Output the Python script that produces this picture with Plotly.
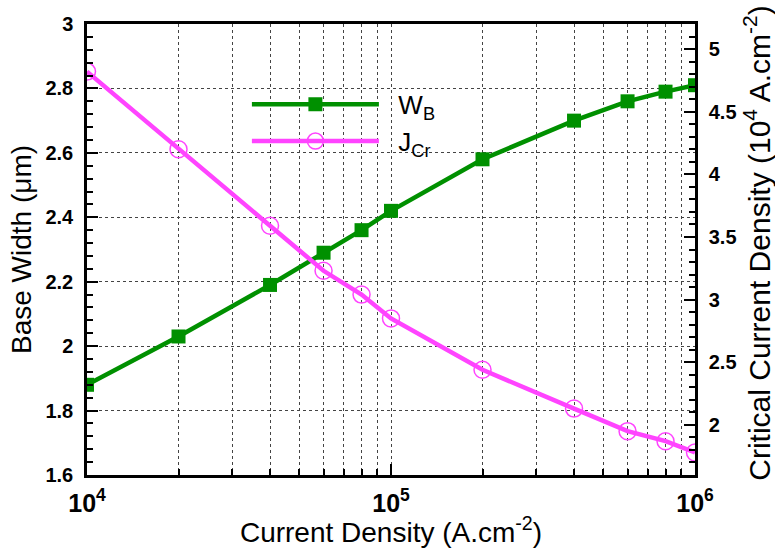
import plotly.graph_objects as go

current_density = [1e4, 2e4, 4e4, 6e4, 8e4, 1e5, 2e5, 4e5, 6e5, 8e5, 1e6]
base_width = [1.88, 2.03, 2.19, 2.29, 2.36, 2.42, 2.58, 2.70, 2.76, 2.79, 2.81]
critical_j = [4.82, 4.20, 3.59, 3.23, 3.04, 2.85, 2.44, 2.13, 1.95, 1.87, 1.78]

green = "#009000"
magenta = "#ff44ff"
font = "Liberation Sans, Arial, sans-serif"

fig = go.Figure()
fig.add_trace(go.Scatter(
    x=current_density, y=base_width, name="\u00a0\u00a0W<sub>B</sub>", mode="lines+markers",
    line=dict(color=green, width=4.5),
    marker=dict(symbol="square", size=14, color=green),
))
fig.add_trace(go.Scatter(
    x=current_density, y=critical_j, name="\u00a0\u00a0J<sub>Cr</sub>", mode="lines+markers",
    yaxis="y2",
    line=dict(color=magenta, width=4.5),
    marker=dict(symbol="circle-open", size=17, color=magenta, line=dict(width=1.5)),
))

tickfont = dict(family=font, size=20, color="black", weight="bold")
titlefont = dict(family=font, size=28, color="black")
grid = "#444444"

fig.update_layout(
    width=775, height=548,
    margin=dict(l=87, r=80, t=24, b=61),
    plot_bgcolor="white", paper_bgcolor="white",
    showlegend=True,
    legend=dict(x=0.263, y=0.874, xanchor="left", yanchor="top",
                itemwidth=127, bgcolor="rgba(0,0,0,0)",
                font=dict(family=font, size=26, color="black"),
                tracegroupgap=0, itemsizing="trace"),
    xaxis=dict(
        type="log", range=[4, 6], dtick=1, exponentformat="power",
        showline=True, linecolor="black", linewidth=2.5, mirror=True,
        ticks="inside", ticklen=11, tickwidth=2, tickcolor="black",
        showgrid=True, gridcolor=grid, griddash="dot", gridwidth=1,
        minor=dict(dtick="D1", showgrid=True, gridcolor=grid, griddash="dot",
                   ticks="inside", ticklen=6, tickwidth=1.5, tickcolor="black"),
        tickfont=tickfont, ticklabelstandoff=5,
        title=dict(text="Current Density (A.cm<sup>-2</sup>)", font=titlefont, standoff=0),
        zeroline=False,
    ),
    yaxis=dict(
        range=[1.6, 3.0], dtick=0.2, tickformat="~g",
        showline=True, linecolor="black", linewidth=2.5,
        ticks="inside", ticklen=11, tickwidth=2, tickcolor="black",
        showgrid=True, gridcolor=grid, griddash="dot", gridwidth=1,
        minor=dict(dtick=0.04, ticks="inside", ticklen=6, tickwidth=1.5,
                   tickcolor="black", showgrid=False),
        tickfont=tickfont, ticklabelstandoff=7,
        title=dict(text="Base Width (μm)", font=titlefont, standoff=6),
        zeroline=False,
    ),
    yaxis2=dict(
        range=[1.6, 5.2], dtick=0.5, tick0=0, overlaying="y", side="right",
        showline=True, linecolor="black", linewidth=2.5,
        ticks="inside", ticklen=11, tickwidth=2, tickcolor="black",
        showgrid=False,
        minor=dict(dtick=0.1, ticks="inside", ticklen=6, tickwidth=1.5, tickcolor="black"),
        tickfont=tickfont, ticklabelstandoff=7,
        zeroline=False,
    ),
    annotations=[dict(
        text="Critical Current Density (10<sup>4</sup> A.cm<sup>-2</sup>)",
        xref="paper", yref="paper", x=1.102, y=0.515,
        xanchor="center", yanchor="middle", textangle=-90, showarrow=False,
        font=dict(family=font, size=30, color="black"),
    )],
)

fig.write_html("out.html", config={"displayModeBar": False},
               post_script="document.body.style.margin='0px';")
